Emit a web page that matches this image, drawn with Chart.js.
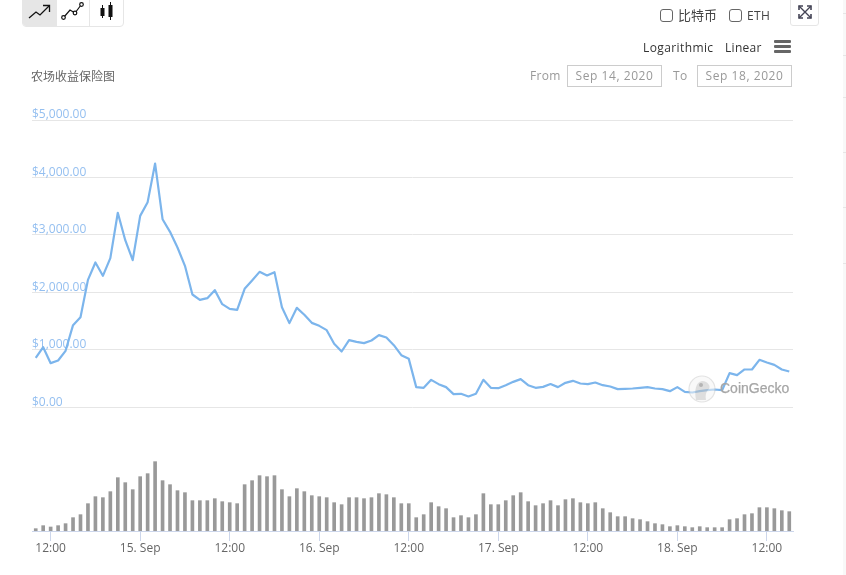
<!DOCTYPE html>
<html><head><meta charset="utf-8">
<script src="https://cdn.jsdelivr.net/npm/chart.js@4"></script>
<style>
html,body{margin:0;padding:0;background:#fff;width:846px;height:575px;overflow:hidden}
body{position:relative;font-family:"Open Sans",sans-serif;font-size:12px}
canvas{position:absolute;left:0;top:0}
.a{position:absolute;white-space:nowrap;line-height:16px}
.box{position:absolute;box-sizing:border-box;border:1px solid #666;border-radius:3px;width:13px;height:13px;background:#fff}
.inp{position:absolute;box-sizing:border-box;border:1px solid #ccc;width:95px;height:22px;line-height:20px;text-align:center;color:#999;letter-spacing:.55px}
.edge{position:absolute;left:843px;width:3px;height:1px;background:#e6e6e6}
svg{position:absolute}
</style></head><body>
<canvas id="c" width="846" height="575"></canvas>

<div style="position:absolute;left:843px;top:0;width:3px;height:575px;background:#f8f8f8"></div>
<div class="edge" style="top:13px"></div><div class="edge" style="top:55px"></div><div class="edge" style="top:97px"></div>
<div class="edge" style="top:152px"></div><div class="edge" style="top:207px"></div><div class="edge" style="top:263px"></div>

<div style="position:absolute;left:22px;top:-4px;width:102px;height:31px;box-sizing:border-box;border:1px solid #e6e6e6;border-radius:4px;background:#fff"></div>
<div style="position:absolute;left:23px;top:-4px;width:33px;height:30px;background:#e6e6e6;border-radius:3px 0 0 3px"></div>
<div style="position:absolute;left:56px;top:0;width:1px;height:26px;background:#e6e6e6"></div>
<div style="position:absolute;left:89px;top:0;width:1px;height:26px;background:#e6e6e6"></div>
<svg style="left:28px;top:3px" width="24" height="16" viewBox="0 0 24 16" fill="none" stroke="#111" stroke-width="1.3"><path d="M1 15L8 9L12 12L21 3"/><path d="M15 2.5H21.5V9"/></svg>
<svg style="left:60px;top:1px" width="26" height="20" viewBox="0 0 26 20" fill="none" stroke="#111" stroke-width="1.2"><path d="M4 16L10 9L15 12L21 4"/><circle cx="3.5" cy="16.5" r="1.8" fill="#fff"/><circle cx="15" cy="12" r="1.8" fill="#fff"/><circle cx="21.5" cy="3.5" r="1.8" fill="#fff"/></svg>
<svg style="left:98px;top:1px" width="18" height="20" viewBox="0 0 18 20" fill="#111" stroke="#111"><path d="M4.5 4V17M12.5 1V19" stroke-width="1"/><rect x="2.5" y="7" width="4" height="8" stroke="none"/><rect x="10.5" y="4" width="4" height="12" stroke="none"/></svg>

<div class="box" style="left:660px;top:9px"></div>
<div class="a" style="left:678px;top:7px;color:#444;font-size:13px;font-family:'Noto Sans CJK SC'">比特币</div>
<div class="box" style="left:729px;top:9px"></div>
<div class="a" style="left:747px;top:8px;color:#444;letter-spacing:.3px">ETH</div>
<div style="position:absolute;left:790px;top:-3px;width:29px;height:29px;box-sizing:border-box;border:1px solid #e6e6e6;border-radius:3px;background:#fff"></div>
<svg style="left:798px;top:5px" width="14" height="14" viewBox="0 0 14 14" fill="none" stroke="#445" stroke-width="1.4"><path d="M1 1L13 13M13 1L1 13"/><path d="M1 5V1H5M9 1H13V5M1 9V13H5M13 9V13H9" stroke-width="1.6"/></svg>

<div class="a" style="left:643px;top:40px;color:#333;letter-spacing:.4px">Logarithmic</div>
<div class="a" style="left:725px;top:40px;color:#333;letter-spacing:.3px">Linear</div>
<div style="position:absolute;left:774px;top:40px;width:17px;height:3px;background:#666;border-radius:1px"></div>
<div style="position:absolute;left:774px;top:45px;width:17px;height:3px;background:#666;border-radius:1px"></div>
<div style="position:absolute;left:774px;top:50px;width:17px;height:3px;background:#666;border-radius:1px"></div>

<div class="a" style="left:31px;top:68px;color:#666;font-family:'Noto Sans CJK SC'">农场收益保险图</div>
<div class="a" style="left:530px;top:68px;color:#999;letter-spacing:.3px">From</div>
<div class="inp" style="left:567px;top:65px">Sep 14, 2020</div>
<div class="a" style="left:673px;top:68px;color:#999;letter-spacing:.3px">To</div>
<div class="inp" style="left:697px;top:65px">Sep 18, 2020</div>

<svg style="left:688px;top:375px;opacity:.55" width="28" height="28" viewBox="0 0 28 28"><circle cx="14" cy="14" r="13" fill="#f4f4f4" stroke="#ccc" stroke-width="1.2"/><path d="M8 25C6 15 8 7 14 6C20 6 24 12 20 15C18 17 17 21 18 25Z" fill="#c4c4c4"/><circle cx="13" cy="10" r="2" fill="#777"/></svg>
<div class="a" style="left:720px;top:380px;color:#a6a6a6;font-size:14px;font-family:'Liberation Sans',sans-serif;-webkit-text-stroke:.25px #a6a6a6">CoinGecko</div>

<script>
const days = ["14. Sep","15. Sep","16. Sep","17. Sep","18. Sep"];
const categories = [];
for (let d = 0; d < days.length; d++) {
  for (let h = 0; h < 24; h++) {
    const stamp = days[d] + " " + String(h).padStart(2,"0") + ":00";
    if ((d > 0 || h >= 10) && (d < 4 || h <= 15)) categories.push(stamp);
  }
}
const tickPositions = ["14. Sep 12:00","15. Sep 00:00","15. Sep 12:00","16. Sep 00:00","16. Sep 12:00","17. Sep 00:00","17. Sep 12:00","18. Sep 00:00","18. Sep 12:00"];
const tickLabels = ["12:00","15. Sep","12:00","16. Sep","12:00","17. Sep","12:00","18. Sep","12:00"];
const priceTicks = [0,1000,2000,3000,4000,5000];
const price = [864,1049,771,817,986,1432,1571,2220,2522,2290,2597,3386,2910,2562,3333,3571,4243,3275,3055,2783,2464,1965,1872,1901,2041,1797,1716,1699,2064,2209,2359,2296,2354,1742,1467,1733,1612,1472,1420,1345,1107,974,1171,1142,1119,1165,1258,1217,1084,910,846,354,342,481,406,354,232,238,191,238,481,342,336,388,446,493,388,342,359,408,354,429,464,417,406,435,388,365,319,325,330,342,354,330,319,284,354,272,261,284,301,313,301,597,562,661,661,829,783,742,661,626];
const volume = [7,16,12,16,22,40,49,82,103,100,118,160,145,124,163,172,208,151,139,121,115,91,91,91,97,88,85,82,139,151,166,163,166,124,103,127,118,106,103,100,85,79,100,100,97,100,112,109,100,82,82,40,49,85,73,67,40,46,40,49,112,79,79,91,106,115,88,76,82,91,76,94,97,85,82,85,67,55,43,43,37,34,28,22,19,13,16,13,10,13,10,10,10,34,37,49,52,70,70,67,61,58];

new Chart(document.getElementById("c"), {
  data: {
    labels: categories,
    datasets: [
      {type:"line", data:price, yAxisID:"y", borderColor:"#7cb5ec", borderWidth:2.2, pointRadius:0, tension:0, order:1, borderJoinStyle:"round"},
      {type:"bar", data:volume, yAxisID:"v", backgroundColor:"#999", barThickness:3, order:2}
    ]
  },
  options: {
    responsive:false, animation:false, events:[],
    layout:{padding:{left:32,right:53,top:120,bottom:0}},
    plugins:{legend:{display:false},tooltip:{enabled:false},title:{display:false}},
    scales:{
      x:{
        type:"category", offset:true,
        grid:{display:true, offset:false, drawOnChartArea:false, drawTicks:true, tickLength:10, color:"#ccd6eb"},
        border:{display:true,color:"#ccd6eb"},
        ticks:{autoSkip:false,maxRotation:0,minRotation:0,color:"#666",font:{family:"Open Sans",size:12},padding:0,
          callback(v){return tickLabels[tickPositions.indexOf(this.getLabelForValue(v))];}},
        afterBuildTicks(s){s.ticks=tickPositions.map(p=>({value:categories.indexOf(p)}));},
        afterFit(s){s.height=44;}
      },
      y:{
        position:"left", min:-2148, max:5000,
        grid:{color:"#e6e6e6",drawTicks:false,lineWidth:1},
        border:{display:false},
        ticks:{mirror:true,padding:0,labelOffset:-5,color:"#94bff0",font:{family:"Open Sans",size:12},
          callback(v){return "$"+v.toLocaleString("en-US",{minimumFractionDigits:2,maximumFractionDigits:2});}},
        afterBuildTicks(s){s.ticks=priceTicks.map(v=>({value:v}));},
        afterFit(s){s.width=0;}
      },
      v:{display:false,position:"left",min:0,max:1233,grid:{display:false}}
    }
  }
});
</script>
</body></html>
